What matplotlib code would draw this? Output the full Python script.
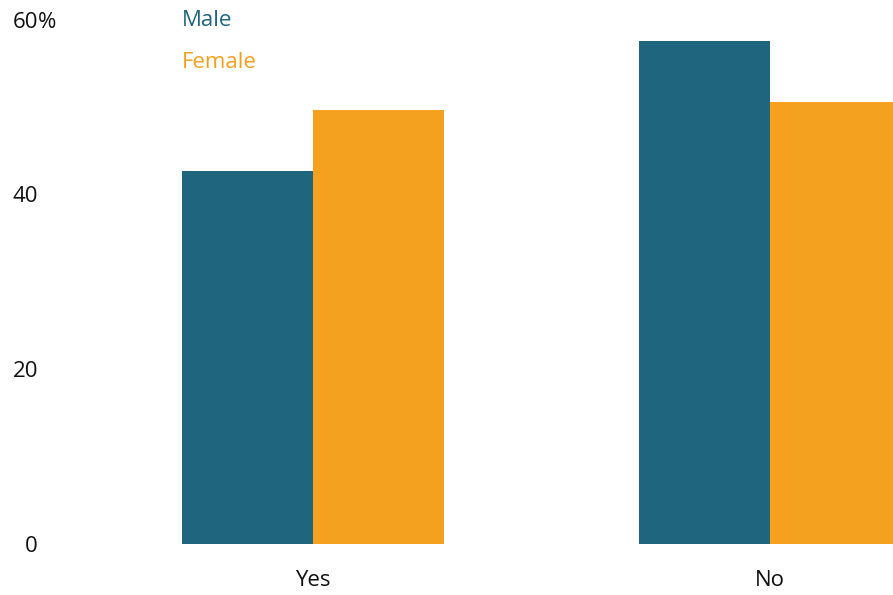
import matplotlib
matplotlib.use("Agg")
import matplotlib.pyplot as plt
import numpy as np

plt.rcParams['font.family'] = ['Open Sans', 'DejaVu Sans']

categories = ["Yes", "No"]
series_names = ["Male", "Female"]
male = [42.7, 57.6]
female = [49.7, 50.6]
colors = ["#20657e", "#f4a11f"]
y_ticks = [0, 20, 40, 60]

W, H = 893, 595
fig = plt.figure(figsize=(W / 100, H / 100), dpi=100)

# axes spans full width; baseline at y=544 px, 60 at y=20 px
y0_px, y60_px = 544.3, 20.0
ax = fig.add_axes([0, 1 - y0_px / H, 1, (y0_px - y60_px) / H])
ax.set_ylim(0, 60)
c0_px, c1_px = 313.0, 770.0
span = c1_px - c0_px
ax.set_xlim(-c0_px / span, (W - c0_px) / span)
ax.axis("off")

bw = 131.0 / span
x = np.arange(len(categories))
ax.bar(x - bw / 2, male, width=bw, color=colors[0], linewidth=0)
ax.bar(x + bw / 2, female, width=bw, color=colors[1], linewidth=0)

fs = 16
# y tick labels, right aligned, with a trailing % on the top one
for v in y_ticks:
    ypx = y0_px - (y0_px - y60_px) * v / 60 + 2
    fig.text(38 / W, 1 - ypx / H, str(v), ha="right", va="center",
             fontsize=fs, color="#111111")
    if v == y_ticks[-1]:
        fig.text(38 / W, 1 - ypx / H, "%", ha="left", va="center",
                 fontsize=fs, color="#111111")

# category labels
for xi, cat in zip(x, categories):
    ax.text(xi, -4.1, cat, ha="center", va="center", fontsize=fs,
            color="#111111", clip_on=False)

# legend labels
for i, (name, col) in enumerate(zip(series_names, colors)):
    fig.text(182 / W, 1 - (21 + 41 * i) / H, name, ha="left", va="center",
             fontsize=fs, color=col)

fig.savefig("out.png", dpi=100)
